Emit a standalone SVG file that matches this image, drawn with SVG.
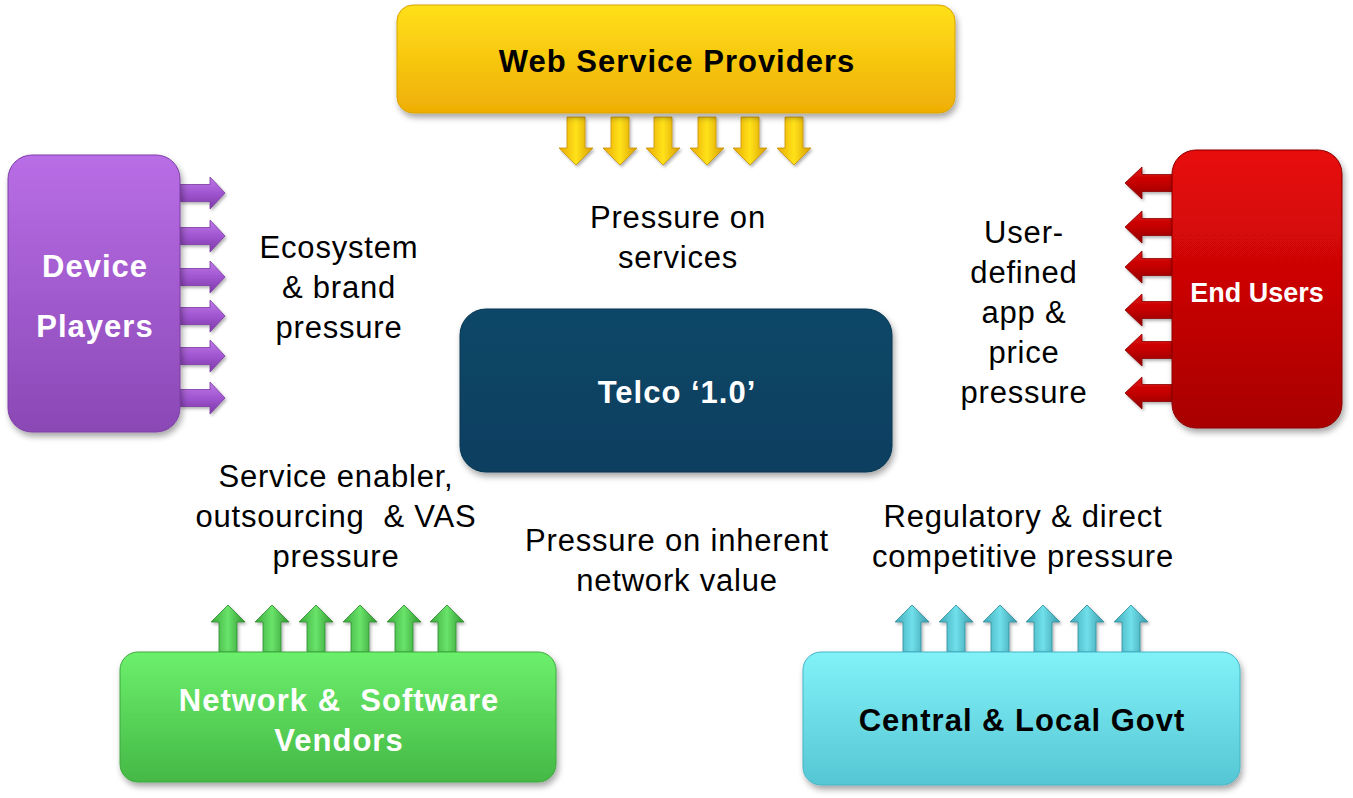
<svg xmlns="http://www.w3.org/2000/svg" width="1353" height="798" viewBox="0 0 1353 798">
<defs>
<style>
.lbl{font-family:"Liberation Sans",Arial,sans-serif;font-size:31px;letter-spacing:0.8px;fill:#000;text-anchor:middle;white-space:pre}
.nt{font-family:"Liberation Sans",Arial,sans-serif;font-size:31px;letter-spacing:1px;font-weight:bold;text-anchor:middle;white-space:pre}
.w{fill:#fff}
.k{fill:#000}
</style>
<filter id="sh" x="-10%" y="-10%" width="120%" height="130%">
<feDropShadow dx="2" dy="4" stdDeviation="3" flood-color="#000" flood-opacity="0.35"/>
</filter>
<filter id="ash" x="-30%" y="-30%" width="160%" height="160%">
<feDropShadow dx="1.5" dy="2" stdDeviation="1.5" flood-color="#000" flood-opacity="0.3"/>
</filter>
<linearGradient id="gY" x1="0" y1="0" x2="0" y2="1"><stop offset="0" stop-color="#ffe01a"/><stop offset="1" stop-color="#efae05"/></linearGradient>
<linearGradient id="gP" x1="0" y1="0" x2="0" y2="1"><stop offset="0" stop-color="#b96de6"/><stop offset="1" stop-color="#8a48b5"/></linearGradient>
<linearGradient id="gR" x1="0" y1="0" x2="0" y2="1"><stop offset="0" stop-color="#e80a0a"/><stop offset="1" stop-color="#a80000"/></linearGradient>
<linearGradient id="gT" x1="0" y1="0" x2="0" y2="1"><stop offset="0" stop-color="#0a4768"/><stop offset="1" stop-color="#083f60"/></linearGradient>
<linearGradient id="gG" x1="0" y1="0" x2="0" y2="1"><stop offset="0" stop-color="#6cf06c"/><stop offset="1" stop-color="#45b845"/></linearGradient>
<linearGradient id="gC" x1="0" y1="0" x2="0" y2="1"><stop offset="0" stop-color="#82f2f8"/><stop offset="1" stop-color="#55c6d4"/></linearGradient>
<linearGradient id="aY" x1="0" y1="0" x2="1" y2="0"><stop offset="0" stop-color="#e8a800"/><stop offset="0.5" stop-color="#ffe21a"/><stop offset="1" stop-color="#d89c00"/></linearGradient>
<linearGradient id="aP" x1="0" y1="0" x2="0" y2="1"><stop offset="0" stop-color="#c07ae8"/><stop offset="0.5" stop-color="#a055d0"/><stop offset="1" stop-color="#7e3aa8"/></linearGradient>
<linearGradient id="aR" x1="0" y1="0" x2="0" y2="1"><stop offset="0" stop-color="#e01010"/><stop offset="0.5" stop-color="#c40000"/><stop offset="1" stop-color="#900000"/></linearGradient>
<linearGradient id="aG" x1="0" y1="0" x2="1" y2="0"><stop offset="0" stop-color="#3aa83a"/><stop offset="0.5" stop-color="#6ae46a"/><stop offset="1" stop-color="#2f962f"/></linearGradient>
<linearGradient id="aC" x1="0" y1="0" x2="1" y2="0"><stop offset="0" stop-color="#3fa8b8"/><stop offset="0.5" stop-color="#70e0ea"/><stop offset="1" stop-color="#3a9aaa"/></linearGradient>
<path id="dn" d="M-9,0 H9 V31 H17 L0,48 L-17,31 H-9 Z"/>
<path id="up" d="M0,0 L17,17 H9 V47 H-9 V17 H-17 Z"/>
<path id="rt" d="M0,-8.5 H30 V-16 L45,0 L30,16 V8.5 H0 Z"/>
<path id="lf" d="M0,0 L17,-16 V-8.5 H47 V8.5 H17 V16 Z"/>
</defs>
<rect width="1353" height="798" fill="#fff"/>

<g id="connectors">
<g id="arrows-web" fill="url(#aY)" stroke="#c99000" stroke-width="0.8" filter="url(#ash)">
<use href="#dn" x="576" y="117"/><use href="#dn" x="620" y="117"/><use href="#dn" x="663" y="117"/>
<use href="#dn" x="707" y="117"/><use href="#dn" x="750" y="117"/><use href="#dn" x="794" y="117"/>
</g>
<g id="arrows-device" fill="url(#aP)" stroke="#7a3aa2" stroke-width="0.8" filter="url(#ash)">
<use href="#rt" x="180" y="193"/><use href="#rt" x="180" y="236"/><use href="#rt" x="180" y="277"/>
<use href="#rt" x="180" y="316"/><use href="#rt" x="180" y="356"/><use href="#rt" x="180" y="398"/>
</g>
<g id="arrows-endusers" fill="url(#aR)" stroke="#8a0000" stroke-width="0.8" filter="url(#ash)">
<use href="#lf" x="1125" y="183"/><use href="#lf" x="1125" y="227"/><use href="#lf" x="1125" y="267"/>
<use href="#lf" x="1125" y="310"/><use href="#lf" x="1125" y="350"/><use href="#lf" x="1125" y="393"/>
</g>
<g id="arrows-vendors" fill="url(#aG)" stroke="#2e8a2e" stroke-width="0.8" filter="url(#ash)">
<use href="#up" x="228" y="605"/><use href="#up" x="272" y="605"/><use href="#up" x="316" y="605"/>
<use href="#up" x="360" y="605"/><use href="#up" x="404" y="605"/><use href="#up" x="447" y="605"/>
</g>
<g id="arrows-govt" fill="url(#aC)" stroke="#2f8e9c" stroke-width="0.8" filter="url(#ash)">
<use href="#up" x="912" y="605"/><use href="#up" x="956" y="605"/><use href="#up" x="1000" y="605"/>
<use href="#up" x="1043" y="605"/><use href="#up" x="1087" y="605"/><use href="#up" x="1131" y="605"/>
</g>
</g>

<g id="web">
<rect x="397" y="5" width="558" height="108" rx="16" fill="url(#gY)" stroke="#d9a300" stroke-width="1" filter="url(#sh)"/>
<text class="nt k" x="677" y="72">Web Service Providers</text>
</g>

<g id="device">
<rect x="8" y="155" width="172" height="277" rx="24" fill="url(#gP)" stroke="#7c3ea5" stroke-width="1" filter="url(#sh)"/>
<text class="nt w" x="95" y="277">Device</text>
<text class="nt w" x="95" y="337">Players</text>
</g>

<g id="endusers">
<rect x="1172" y="150" width="170" height="278" rx="24" fill="url(#gR)" stroke="#8a0000" stroke-width="1" filter="url(#sh)"/>
<text class="nt w" x="1257" y="302" style="font-size:27px;letter-spacing:0">End Users</text>
</g>

<g id="telco">
<rect x="460" y="309" width="432" height="163" rx="26" fill="url(#gT)" stroke="#06354f" stroke-width="1" filter="url(#sh)"/>
<text class="nt w" x="677" y="403">Telco ‘1.0’</text>
</g>

<g id="vendors">
<rect x="120" y="652" width="436" height="130" rx="18" fill="url(#gG)" stroke="#3ea83e" stroke-width="1" filter="url(#sh)"/>
<text class="nt w" x="339" y="711">Network &amp;  Software</text>
<text class="nt w" x="339" y="751">Vendors</text>
</g>

<g id="govt">
<rect x="803" y="652" width="437" height="133" rx="18" fill="url(#gC)" stroke="#45b5c5" stroke-width="1" filter="url(#sh)"/>
<text class="nt k" x="1022" y="731">Central &amp; Local Govt</text>
</g>

<g id="labels">
<text class="lbl" x="678" y="228">Pressure on</text>
<text class="lbl" x="678" y="268">services</text>
<text class="lbl" x="339" y="258">Ecosystem</text>
<text class="lbl" x="339" y="298">&amp; brand</text>
<text class="lbl" x="339" y="338">pressure</text>
<text class="lbl" x="1024" y="243">User-</text>
<text class="lbl" x="1024" y="283">defined</text>
<text class="lbl" x="1024" y="323">app &amp;</text>
<text class="lbl" x="1024" y="363">price</text>
<text class="lbl" x="1024" y="403">pressure</text>
<text class="lbl" x="336" y="487">Service enabler,</text>
<text class="lbl" x="336" y="527">outsourcing  &amp; VAS</text>
<text class="lbl" x="336" y="567">pressure</text>
<text class="lbl" x="677" y="551">Pressure on inherent</text>
<text class="lbl" x="677" y="591">network value</text>
<text class="lbl" x="1023" y="527">Regulatory &amp; direct</text>
<text class="lbl" x="1023" y="567">competitive pressure</text>
</g>
</svg>
